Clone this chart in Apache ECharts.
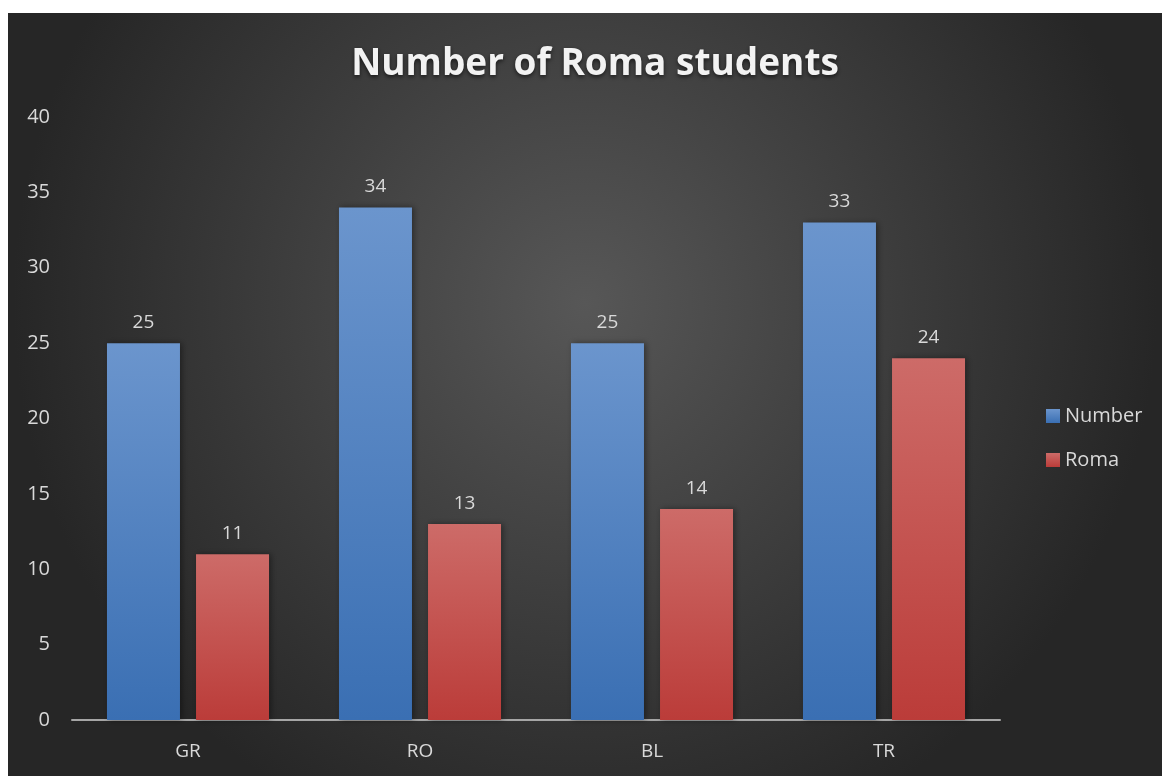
<!DOCTYPE html>
<html><head><meta charset="utf-8">
<script src="https://cdn.jsdelivr.net/npm/echarts@6/dist/echarts.min.js"></script>
<style>html,body{margin:0;padding:0;background:#fff}#c{width:1162px;height:776px}</style>
</head><body><div id="c"></div>
<script>
const categories = ['GR', 'RO', 'BL', 'TR'];
const numberValues = [25, 34, 25, 33];
const romaValues = [11, 13, 14, 24];
const seriesNames = ['Number', 'Roma'];
const titleText = 'Number of Roma students';

const chart = echarts.init(document.getElementById('c'));
const lbl = {show: true, position: 'top', distance: 11, color: '#d9d9d9', fontSize: 19, fontFamily: 'Open Sans'};
function grad(top, bottom) {
  return new echarts.graphic.LinearGradient(0, 0, 0, 1, [{offset: 0, color: top}, {offset: 1, color: bottom}]);
}
chart.setOption({
  backgroundColor: '#ffffff',
  graphic: [{
    type: 'rect', z: -10, silent: true,
    shape: {x: 8, y: 13, width: 1154, height: 763},
    style: {fill: {type: 'radial', x: 0.5, y: 0.38, r: 0.75, colorStops: [{offset: 0, color: '#575757'}, {offset: 1, color: '#262626'}]}}
  }],
  title: {
    text: titleText, left: 590, top: 41, textAlign: 'center',
    textStyle: {color: '#f2f2f2', fontSize: 37, fontWeight: 'bold', fontFamily: 'Open Sans',
      textShadowColor: 'rgba(0,0,0,0.6)', textShadowBlur: 4, textShadowOffsetY: 2}
  },
  legend: {
    orient: 'vertical', left: 1041, top: 401, itemGap: 24, itemWidth: 14, itemHeight: 14,
    icon: 'rect',
    textStyle: {color: '#d9d9d9', fontSize: 20, fontFamily: 'Open Sans'},
    data: seriesNames
  },
  grid: {left: 72, right: 162, top: 117, bottom: 56},
  xAxis: {
    type: 'category', data: categories,
    axisLine: {lineStyle: {color: '#a6a6a6', width: 2}},
    axisTick: {show: false},
    axisLabel: {color: '#d9d9d9', fontSize: 19, fontFamily: 'Open Sans', margin: 22}
  },
  yAxis: {
    type: 'value', min: 0, max: 40, interval: 5,
    splitLine: {show: false},
    axisLine: {show: false}, axisTick: {show: false},
    axisLabel: {color: '#d9d9d9', fontSize: 20, fontFamily: 'Open Sans', margin: 22}
  },
  series: [
    {name: seriesNames[0], type: 'bar', data: numberValues, barWidth: 73, barGap: '22%',
      itemStyle: {color: grad('#6b95cd', '#3a6fb3'), shadowColor: 'rgba(0,0,0,0.4)', shadowBlur: 6, shadowOffsetX: 2},
      label: lbl},
    {name: seriesNames[1], type: 'bar', data: romaValues, barWidth: 73,
      itemStyle: {color: grad('#cd6b68', '#bb3c39'), shadowColor: 'rgba(0,0,0,0.4)', shadowBlur: 6, shadowOffsetX: 2},
      label: lbl}
  ]
});
</script></body></html>
